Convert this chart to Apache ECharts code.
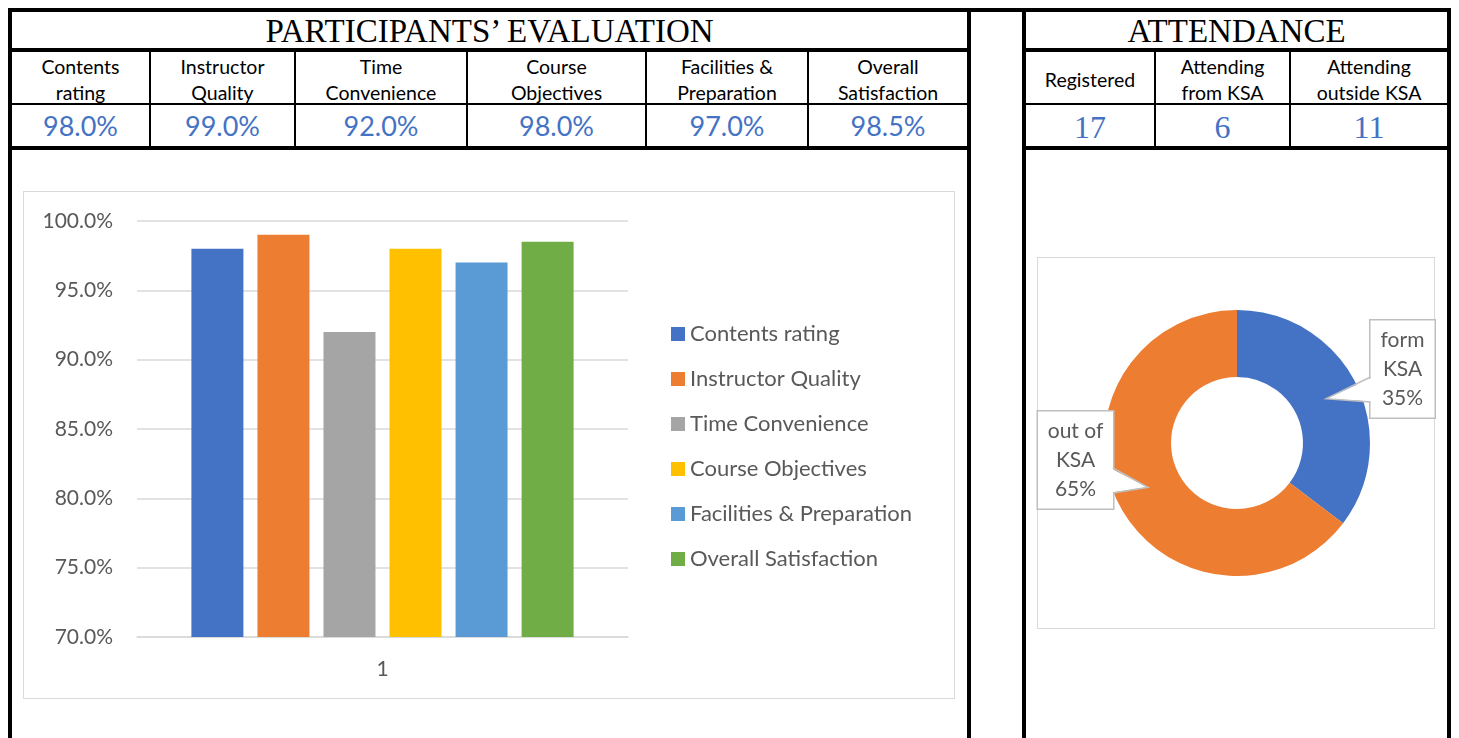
<!DOCTYPE html>
<html><head><meta charset="utf-8">
<script src="https://cdn.jsdelivr.net/npm/echarts@6/dist/echarts.min.js"></script>
<style>
html,body{margin:0;padding:0;background:#fff;}
#wrap{position:relative;width:1459px;height:738px;overflow:hidden;background:#fff;}
#chart{position:absolute;left:0;top:0;width:1459px;height:738px;}
.ln{position:absolute;background:#000;}
.cell{position:absolute;display:flex;align-items:center;justify-content:center;text-align:center;box-sizing:border-box;}
.hd{font-family:'Liberation Serif','Times New Roman',serif;font-size:33px;color:#000;padding-top:2px;}
.lab{font-family:Lato,sans-serif;font-size:19.5px;line-height:26px;color:#000;padding-top:5px;}
.val{font-family:Lato,sans-serif;font-size:27px;color:#4472C4;}
.att{font-family:'Liberation Serif',serif;font-size:32px;color:#4472C4;padding-top:4px;}
.box{position:absolute;border:1.5px solid #d9d9d9;box-sizing:border-box;}
</style></head>
<body>
<div id="wrap"><div id="chart"></div></div>
<script>
// ---------- data ----------
const evalTitle = 'PARTICIPANTS\u2019 EVALUATION';
const evalCategories = ['Contents rating','Instructor Quality','Time Convenience','Course Objectives','Facilities & Preparation','Overall Satisfaction'];
const evalHeaderLines = [['Contents','rating'],['Instructor','Quality'],['Time','Convenience'],['Course','Objectives'],['Facilities &','Preparation'],['Overall','Satisfaction']];
const evalValues = [98.0, 99.0, 92.0, 98.0, 97.0, 98.5];
const barCategories = ['1'];
const attendanceTitle = 'ATTENDANCE';
const attendanceHeaderLines = [['Registered'],['Attending','from KSA'],['Attending','outside KSA']];
const attendanceValues = [17, 6, 11];
const donutNames = ['form KSA','out of KSA'];
const donutValues = [6, 11];

// ---------- styles / layout ----------
const barColors = ['#4472C4','#ED7D31','#A5A5A5','#FFC000','#5B9BD5','#70AD47'];
const donutColors = ['#4472C4','#ED7D31'];
const wrap = document.getElementById('wrap');
function add(cls, l, t, w, h, html){
  const d = document.createElement('div');
  d.className = cls;
  d.style.left = l+'px'; d.style.top = t+'px'; d.style.width = w+'px'; d.style.height = h+'px';
  if (html != null) d.innerHTML = html;
  wrap.insertBefore(d, document.getElementById('chart'));
  return d;
}
function esc(s){return s.replace(/&/g,'&amp;');}
// chart frames
add('box', 23, 191, 932, 508);
add('box', 1037, 257, 398, 372);
// lines
add('ln', 8, 8, 1443, 4);
[8, 967, 1022, 1447].forEach(x => add('ln', x, 8, 4, 730));
[[12,955],[1026,421]].forEach(([x,w]) => {
  add('ln', x, 48, w, 4);
  add('ln', x, 103, w, 2);
  add('ln', x, 146, w, 4);
});
const leftCols = [12,149,294,466,645,807,967];
const rightCols = [1026,1154,1289,1447];
leftCols.slice(1,-1).forEach(x => add('ln', x, 52, 2, 94));
rightCols.slice(1,-1).forEach(x => add('ln', x, 52, 2, 94));
// texts
add('cell hd', 12, 12, 955, 36, esc(evalTitle));
add('cell hd', 1026, 12, 421, 36, esc(attendanceTitle));
function colBounds(cols, i){ const l = cols[i] + (i>0?2:0); return [l, cols[i+1]-l]; }
evalHeaderLines.forEach((lines,i) => {
  const [l,w] = colBounds(leftCols,i);
  add('cell lab', l, 52, w, 51, lines.map(esc).join('<br>'));
  add('cell val', l, 105, w, 41, evalValues[i].toFixed(1)+'%');
});
attendanceHeaderLines.forEach((lines,i) => {
  const [l,w] = colBounds(rightCols,i);
  add('cell lab', l, 52, w, 51, lines.map(esc).join('<br>'));
  add('cell att', l, 105, w, 41, String(attendanceValues[i]));
});

// ---------- chart ----------
const chart = echarts.init(document.getElementById('chart'));
const pieCenter = [1237, 443];
const pieRadius = [66, 133];
const labelCenters = [[1402.5, 369], [1075.5, 460]];
const labelWidths = [64, 75];
const donutTotal = donutValues.reduce((a,b)=>a+b,0);
function midAngle(i){
  let before = 0; for (let k=0;k<i;k++) before += donutValues[k];
  const frac = (before + donutValues[i]/2)/donutTotal;
  return Math.PI/2 - frac*2*Math.PI;
}
function wrapName(n){ const k = n.lastIndexOf(' '); return k>0 ? n.slice(0,k)+'\n'+n.slice(k+1) : n; }
// callout pointers (derived from slice mid-angles)
const calloutGraphics = [];
donutValues.forEach((v,i) => {
  const [cx, cy] = labelCenters[i];
  const a = midAngle(i);
  const rm = (pieRadius[0]+pieRadius[1])/2;
  const tip = [pieCenter[0] + rm*Math.cos(a), pieCenter[1] - rm*Math.sin(a)];
  const hw = labelWidths[i]/2;
  const sgn = tip[0] > cx ? 1 : -1;
  const edgeX = cx + sgn*hw;
  const inX = edgeX - sgn*2;
  calloutGraphics.push({type:'polygon', z:100, silent:true,
    shape:{points:[[inX, cy+8.5],[tip[0],tip[1]],[inX, cy+32.5]]}, style:{fill:'#fff'}});
  calloutGraphics.push({type:'polyline', z:101, silent:true,
    shape:{points:[[edgeX, cy+8],[tip[0],tip[1]],[edgeX, cy+33]]}, style:{stroke:'#bfbfbf', lineWidth:1.5, fill:null}});
});
const axisText = {fontFamily:'Lato', fontSize:21, color:'#595959'};

const option = {
  animation:false,
  color: barColors,
  graphic: calloutGraphics,
  legend: {
    orient:'vertical', left:666, top:318, itemWidth:14, itemHeight:14, itemGap:23, icon:'rect',
    textStyle:{fontFamily:'Lato', fontSize:22, color:'#595959'}, data: evalCategories
  },
  grid: {left:137, width:491, top:221, height:416, containLabel:false},
  xAxis: {
    type:'category', data: barCategories,
    axisLine:{lineStyle:{color:'#d9d9d9', width:1.5}}, axisTick:{show:false},
    axisLabel:Object.assign({margin:22}, axisText)
  },
  yAxis: {
    type:'value', min:70, max:100, interval:5,
    axisLine:{show:false}, axisTick:{show:false},
    axisLabel:Object.assign({margin:24, formatter: v => v.toFixed(1)+'%'}, axisText),
    splitLine:{lineStyle:{color:'#d9d9d9', width:1.5}}
  },
  series: evalCategories.map((n,i) => ({
    type:'bar', name:n, data:[evalValues[i]], barWidth:52, barGap:'27%',
    itemStyle:{color:barColors[i]}
  })).concat([{
    type:'pie', name:'Attendance', center:pieCenter, radius:pieRadius, startAngle:90, clockwise:true,
    emphasis:{disabled:true},
    data: donutNames.map((n,i) => ({name:n, value:donutValues[i], itemStyle:{color:donutColors[i]}, label:{width:labelWidths[i]}})),
    label:{
      show:true, position:'outside',
      formatter: p => wrapName(p.name) + '\n' + Math.round(p.percent) + '%',
      fontFamily:'Lato', fontSize:21, lineHeight:29, color:'#595959',
      backgroundColor:'#fff', borderColor:'#bfbfbf', borderWidth:1.5, padding:[5,0], align:'center'
    },
    labelLine:{show:false},
    labelLayout: function(params){
      const [cx, cy] = labelCenters[params.dataIndex];
      return {x: cx, y: cy, align:'center', verticalAlign:'middle'};
    }
  }])
};
chart.setOption(option);
</script>
</body></html>
